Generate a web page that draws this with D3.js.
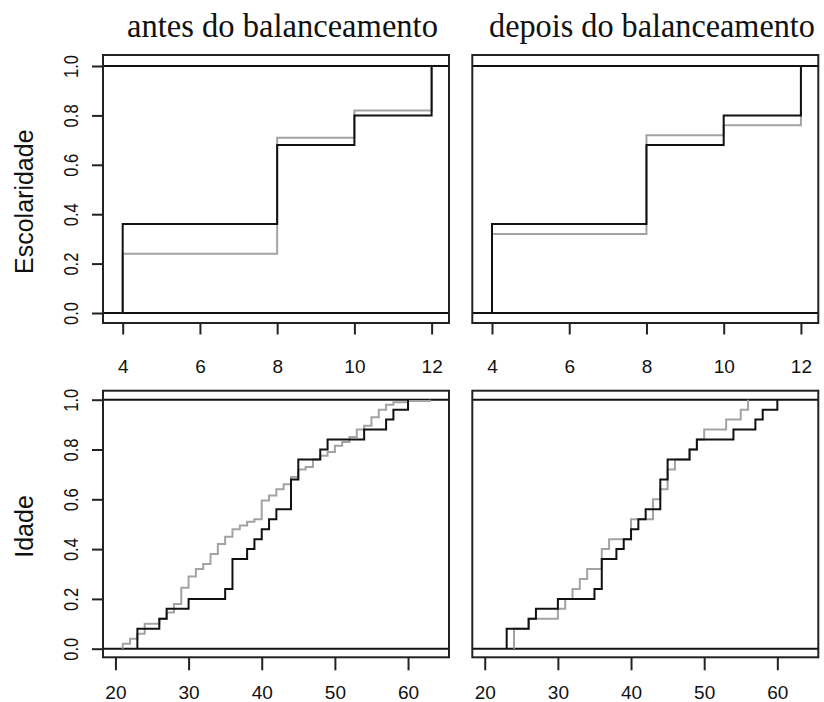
<!DOCTYPE html>
<html>
<head>
<meta charset="utf-8">
<script src="https://cdn.jsdelivr.net/npm/d3@7"></script>
<style>
  html, body { margin: 0; padding: 0; background: #fff; }
  svg { display: block; }
  .tick text { font-family: "Liberation Sans", Arial, sans-serif; fill: #111; }
</style>
</head>
<body>
<div id="chart"></div>
<script>
// ---- data (ECDF step points: x where the step happens, y level after it) ----
const escX = [4, 8, 10, 12];
const escAntesTrat = [0.36, 0.68, 0.80, 1.0];
const escAntesCtrl = [0.24, 0.71, 0.82, 1.0];
const escDepoisTrat = [0.36, 0.68, 0.80, 1.0];
const escDepoisCtrl = [0.32, 0.72, 0.76, 1.0];

const idadeTratX = [23, 26, 27, 30, 35, 36, 38, 39, 40, 41, 42, 44, 45, 48, 49, 54, 57, 58, 60];
const idadeTratY = [0.08, 0.12, 0.16, 0.20, 0.24, 0.36, 0.40, 0.44, 0.48, 0.52, 0.56, 0.68, 0.76, 0.80, 0.84, 0.88, 0.92, 0.96, 1.0];

const idadeAntesCtrlX = [21, 22, 23, 24, 26, 27, 28, 29, 30, 31, 32, 33, 34, 35, 36, 37, 38, 39, 40, 41,
  42, 43, 44, 45, 46, 47, 48, 49, 50, 51, 52, 53, 54, 55, 56, 57, 58, 60, 63];
const idadeAntesCtrlY = [0.02, 0.04, 0.06, 0.10, 0.12, 0.145, 0.18, 0.245, 0.29, 0.32, 0.34, 0.38, 0.42, 0.45, 0.48, 0.495, 0.51, 0.52, 0.595, 0.615,
  0.64, 0.66, 0.69, 0.72, 0.73, 0.76, 0.775, 0.79, 0.815, 0.83, 0.85, 0.88, 0.895, 0.93, 0.96, 0.98, 0.99, 0.995, 1.0];

const idadeDepoisCtrlX = [24, 26, 30, 31, 32, 33, 34, 36, 37, 40, 43, 44, 45, 46, 48, 49, 50, 53, 55, 56];
const idadeDepoisCtrlY = [0.08, 0.12, 0.16, 0.20, 0.24, 0.28, 0.32, 0.40, 0.44, 0.52, 0.60, 0.64, 0.72, 0.76, 0.80, 0.84, 0.88, 0.92, 0.96, 1.0];

const titles = ["antes do balanceamento", "depois do balanceamento"];
const rowLabels = ["Escolaridade", "Idade"];
const escTicks = [4, 6, 8, 10, 12];
const idadeTicks = [20, 30, 40, 50, 60];
const yTicks = [0, 0.2, 0.4, 0.6, 0.8, 1.0];

// ---- layout ----
const W = 824, H = 702;
const colX = [[103, 449], [472.3, 818.3]];
const rows = [
  { box: [55, 323], zero: 313, one: 66, dom: [3.49, 12.45], ticks: escTicks, labY: 50, tick: 11.5 },
  { box: [390.7, 657.3], zero: 648.7, one: 399.7, dom: [18.3, 65.6], ticks: idadeTicks, labY: 41.8, tick: 13 }
];
const panels = [
  { r: 0, c: 0, trat: [escX, escAntesTrat], ctrl: [escX, escAntesCtrl] },
  { r: 0, c: 1, trat: [escX, escDepoisTrat], ctrl: [escX, escDepoisCtrl] },
  { r: 1, c: 0, trat: [idadeTratX, idadeTratY], ctrl: [idadeAntesCtrlX, idadeAntesCtrlY] },
  { r: 1, c: 1, trat: [idadeTratX, idadeTratY], ctrl: [idadeDepoisCtrlX, idadeDepoisCtrlY] }
];

const svg = d3.select("#chart").append("svg")
  .attr("width", W).attr("height", H);

function stepPoints(xs, ys) {
  const pts = [[xs[0], 0]];
  xs.forEach((x, i) => pts.push([x, ys[i]]));
  return pts;
}

panels.forEach(p => {
  const row = rows[p.r];
  const [x0, x1] = colX[p.c];
  const x = d3.scaleLinear().domain(row.dom).range([x0, x1]);
  const y = d3.scaleLinear().domain([0, 1]).range([row.zero, row.one]);
  const g = svg.append("g");

  // horizontal reference lines at 0 and 1
  g.selectAll(".ref").data([0, 1]).enter().append("line")
    .attr("x1", x0).attr("x2", x1)
    .attr("y1", d => y(d)).attr("y2", d => y(d))
    .attr("stroke", "#111").attr("stroke-width", 2);

  const line = d3.line().x(d => x(d[0])).y(d => y(d[1])).curve(d3.curveStepAfter);

  g.append("path").attr("d", line(stepPoints(p.ctrl[0], p.ctrl[1])))
    .attr("fill", "none").attr("stroke", "#a3a3a3").attr("stroke-width", 2);
  g.append("path").attr("d", line(stepPoints(p.trat[0], p.trat[1])))
    .attr("fill", "none").attr("stroke", "#111").attr("stroke-width", 2);

  // box
  g.append("rect")
    .attr("x", x0).attr("y", row.box[0])
    .attr("width", x1 - x0).attr("height", row.box[1] - row.box[0])
    .attr("fill", "none").attr("stroke", "#222").attr("stroke-width", 2);

  // x axis
  const xa = g.append("g").attr("transform", `translate(0,${row.box[1]})`)
    .call(d3.axisBottom(x).tickValues(row.ticks).tickSize(row.tick).tickFormat(d3.format("d")));
  xa.select(".domain").remove();
  xa.selectAll(".tick line").attr("stroke", "#222").attr("stroke-width", 2);
  xa.selectAll(".tick text").attr("y", row.labY).attr("dy", 0)
    .attr("font-size", 19);

  // y axis only in the first column
  if (p.c === 0) {
    const ya = g.append("g").attr("transform", `translate(${x0},0)`)
      .call(d3.axisLeft(y).tickValues(yTicks).tickSize(11).tickFormat(d3.format(".1f")));
    ya.select(".domain").remove();
    ya.selectAll(".tick line").attr("stroke", "#222").attr("stroke-width", 2);
    ya.selectAll(".tick text")
      .attr("x", 0).attr("y", 0).attr("dy", 0)
      .attr("text-anchor", "middle")
      .attr("transform", "translate(-25,0) rotate(-90)")
      .attr("font-size", 20)
      .attr("textLength", 23).attr("lengthAdjust", "spacingAndGlyphs");

    const mid = [201.7, 526.5][p.r];
    svg.append("text")
      .attr("transform", `translate(33,${mid}) rotate(-90)`)
      .attr("text-anchor", "middle")
      .attr("font-family", "'Liberation Sans', Arial, sans-serif")
      .attr("font-size", 25).attr("fill", "#111")
      .text(rowLabels[p.r]);
  }
});

// column titles, squeezed horizontally to the reference width
const titleX = [282.5, 652];
const titleW = [311, 326];
titles.forEach((t, i) => {
  const txt = svg.append("text")
    .attr("x", 0).attr("y", 0)
    .attr("text-anchor", "middle")
    .attr("font-family", "'Liberation Serif', 'Times New Roman', serif")
    .attr("font-size", 34).attr("fill", "#111")
    .text(t);
  const natural = txt.node().getComputedTextLength();
  const sx = titleW[i] / natural;
  txt.attr("transform", `translate(${titleX[i]},36.5) scale(${sx},1)`);
});
</script>
</body>
</html>
